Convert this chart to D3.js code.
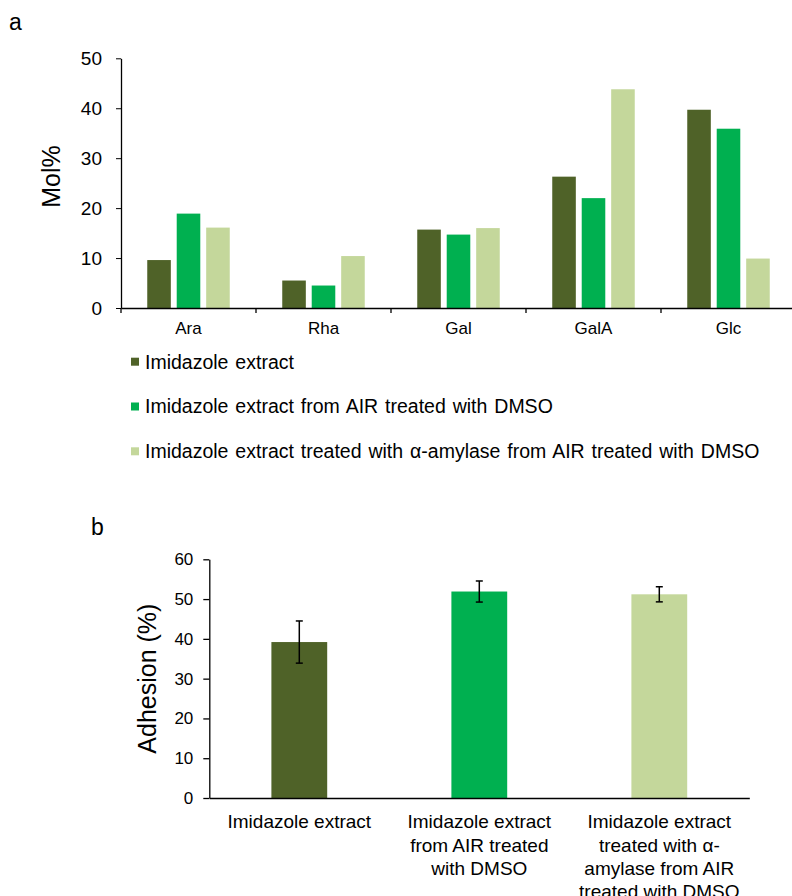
<!DOCTYPE html>
<html>
<head>
<meta charset="utf-8">
<script src="https://cdn.jsdelivr.net/npm/d3@7"></script>
<style>
  body { margin: 0; background: #fff; }
  svg { font-family: 'Liberation Sans', Arial, sans-serif; display: block; }
</style>
</head>
<body>
<svg width="792" height="896"></svg>
<script>
// panel a data
const sugars = ['Ara', 'Rha', 'Gal', 'GalA', 'Glc']
const seriesNames = [
    'Imidazole extract',
    'Imidazole extract from AIR treated with DMSO',
    'Imidazole extract treated with \u03b1-amylase from AIR treated with DMSO'
]
const imidazole = [9.6, 5.5, 15.7, 26.3, 39.7]
const imidazoleDmso = [18.9, 4.5, 14.7, 22.0, 35.9]
const imidazoleAmylase = [16.1, 10.4, 16.0, 43.8, 9.9]
const molTicks = [0, 10, 20, 30, 40, 50]

// panel b data
const samples = [
    ['Imidazole extract'],
    ['Imidazole extract', 'from AIR treated', 'with DMSO'],
    ['Imidazole extract', 'treated with  \u03b1-', 'amylase from AIR', 'treated with DMSO']
]
const adhesion = [39.2, 51.9, 51.2]
const adhesionErr = [5.3, 2.65, 1.9]
const adhesionTicks = [0, 10, 20, 30, 40, 50, 60]

const colors = ['#4F6228', '#00B050', '#C4D79B']

const svg = d3.select('svg')

// ---------- panel a ----------
const a = { left: 121, right: 796, top: 58.3, bottom: 308 }
const molSeries = [imidazole, imidazoleDmso, imidazoleAmylase]

const x0 = d3.scaleBand().domain(sugars).range([a.left, a.right])
const x1 = d3.scaleBand().domain(d3.range(3))
    .range([26.25, x0.bandwidth() - 26.25]).paddingInner(0.2)
const yA = d3.scaleLinear().domain([0, 50]).range([a.bottom, a.top])

svg.append('text').text('a')
    .attr('x', 9).attr('y', 30)
    .attr('font-size', 23)

const groups = svg.append('g').selectAll('g')
    .data(sugars)
    .enter().append('g')
    .attr('transform', d => `translate(${x0(d)},0)`)

groups.selectAll('rect')
    .data((d, i) => molSeries.map((s, k) => ({ k, v: s[i] })))
    .enter().append('rect')
    .attr('x', d => x1(d.k))
    .attr('width', x1.bandwidth())
    .attr('y', d => yA(d.v))
    .attr('height', d => yA(0) - yA(d.v))
    .attr('fill', d => colors[d.k])

const yAxisA = svg.append('g')
    .attr('transform', `translate(${a.left},0)`)
    .call(d3.axisLeft(yA).tickValues(molTicks).tickSize(5).tickPadding(14).tickSizeOuter(0))
yAxisA.selectAll('text').attr('font-size', 19).attr('fill', '#000')
yAxisA.select('.domain').attr('stroke', '#000').attr('stroke-width', 1.3)

const xAxisA = svg.append('g')
    .attr('transform', `translate(0,${a.bottom})`)
    .call(d3.axisBottom(x0).tickSize(0).tickPadding(14))
xAxisA.select('.domain').attr('stroke', '#000').attr('stroke-width', 1.3)
xAxisA.selectAll('text').attr('font-size', 17).attr('fill', '#000')

// category boundary ticks
svg.append('g').selectAll('line')
    .data(sugars.map(s => x0(s)).concat([a.right]))
    .enter().append('line')
    .attr('x1', d => d).attr('x2', d => d)
    .attr('y1', a.bottom).attr('y2', a.bottom + 5)
    .attr('stroke', '#000').attr('stroke-width', 1.3)

svg.append('text').text('Mol%')
    .attr('transform', 'translate(60,176.5) rotate(-90)')
    .attr('text-anchor', 'middle')
    .attr('font-size', 25)

// legend
const legend = svg.append('g').selectAll('g')
    .data(seriesNames)
    .enter().append('g')
    .attr('transform', (d, i) => `translate(131,${361.7 + i * 44.8})`)
legend.append('rect')
    .attr('x', 0).attr('y', -4).attr('width', 8).attr('height', 8)
    .attr('fill', (d, i) => colors[i])
legend.append('text')
    .text(d => d)
    .attr('x', 14).attr('dy', '0.35em')
    .attr('font-size', 19.5)
    .attr('word-spacing', 1.5)

// ---------- panel b ----------
const b = { left: 209.3, right: 749.3, top: 559.3, bottom: 798 }

const xB = d3.scaleBand().domain(d3.range(samples.length))
    .range([b.left, b.right]).paddingInner(0.69).paddingOuter(0.345)
const yB = d3.scaleLinear().domain([0, 60]).range([b.bottom, b.top])

svg.append('text').text('b')
    .attr('x', 91).attr('y', 535)
    .attr('font-size', 23)

svg.append('g').selectAll('rect')
    .data(adhesion)
    .enter().append('rect')
    .attr('x', (d, i) => xB(i))
    .attr('width', xB.bandwidth())
    .attr('y', d => yB(d))
    .attr('height', d => yB(0) - yB(d))
    .attr('fill', (d, i) => colors[i])

// error bars
const err = svg.append('g').selectAll('g')
    .data(adhesion)
    .enter().append('g')
    .attr('stroke', '#000').attr('stroke-width', 1.5)
const cx = i => xB(i) + xB.bandwidth() / 2
err.append('line')
    .attr('x1', (d, i) => cx(i)).attr('x2', (d, i) => cx(i))
    .attr('y1', (d, i) => yB(d - adhesionErr[i])).attr('y2', (d, i) => yB(d + adhesionErr[i]))
err.append('line')
    .attr('x1', (d, i) => cx(i) - 3.5).attr('x2', (d, i) => cx(i) + 3.5)
    .attr('y1', (d, i) => yB(d + adhesionErr[i])).attr('y2', (d, i) => yB(d + adhesionErr[i]))
err.append('line')
    .attr('x1', (d, i) => cx(i) - 3.5).attr('x2', (d, i) => cx(i) + 3.5)
    .attr('y1', (d, i) => yB(d - adhesionErr[i])).attr('y2', (d, i) => yB(d - adhesionErr[i]))

const yAxisB = svg.append('g')
    .attr('transform', `translate(${b.left},0)`)
    .call(d3.axisLeft(yB).tickValues(adhesionTicks).tickSize(6).tickPadding(10).tickSizeOuter(0))
yAxisB.selectAll('text').attr('font-size', 17).attr('fill', '#000')
yAxisB.select('.domain').attr('stroke', '#000').attr('stroke-width', 1.3)
yAxisB.selectAll('.tick line').attr('stroke', '#000').attr('stroke-width', 1.3)

const xAxisB = svg.append('g')
    .attr('transform', `translate(0,${b.bottom})`)
    .call(d3.axisBottom(xB).tickSize(0).tickFormat(''))
xAxisB.select('.domain').attr('stroke', '#000').attr('stroke-width', 1.3)

// multi-line category labels
xAxisB.selectAll('.tick').each(function (d) {
    const t = d3.select(this).select('text')
        .attr('y', 0).attr('dy', null)
        .attr('font-size', 19).attr('fill', '#000')
    samples[d].forEach((line, j) => {
        t.append('tspan').text(line)
            .attr('x', 0).attr('y', 30.3 + j * 23.2)
    })
})

svg.append('text').text('Adhesion (%)')
    .attr('transform', `translate(156,${(b.top + b.bottom) / 2}) rotate(-90)`)
    .attr('text-anchor', 'middle')
    .attr('font-size', 25)
</script>
</body>
</html>
